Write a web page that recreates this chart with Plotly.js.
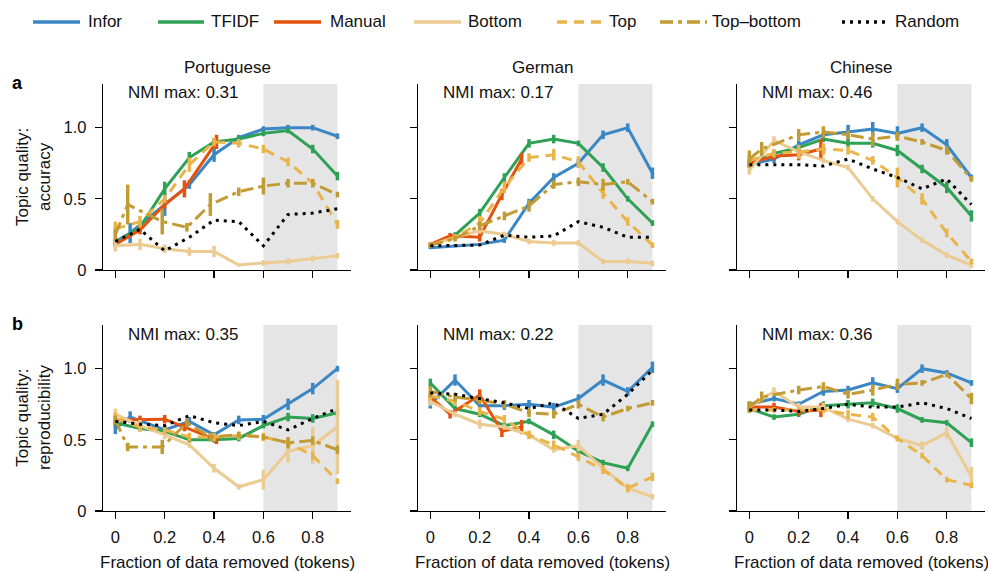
<!DOCTYPE html>
<html><head><meta charset="utf-8">
<script src="https://cdn.plot.ly/plotly-3.0.1.min.js"></script>
<style>html,body{margin:0;padding:0;background:#fff}#chart{width:988px;height:571px}</style>
</head><body><div id="chart"></div>
<script>
// ---------------- data ----------------
const SERIES = ['Infor','TFIDF','Manual','Bottom','Top','Top–bottom','Random'];
const LANGUAGES = ['Portuguese','German','Chinese'];
const NMI_ACC = ['0.31','0.17','0.46'];
const NMI_REP = ['0.35','0.22','0.36'];
const X_TICKS = [0,0.2,0.4,0.6,0.8];
const X_TICK_TEXT = ['0','0.2','0.4','0.6','0.8'];
const Y_TICKS = [0,0.5,1];
const Y_TICK_TEXT = ['0','0.5','1.0'];
const SHADE_RANGE = [0.6,0.9];
const X_TITLE = 'Fraction of data removed (tokens)';
const Y_TITLES = ['Topic quality:<br>accuracy','Topic quality:<br>reproducibility'];
const ROW_LETTERS = ['a','b'];

const X_GRID = [0,0.1,0.2,0.3,0.4,0.5,0.6,0.7,0.8,0.9];
const X_PT_INFOR = [0,0.06,0.2,0.3,0.4,0.5,0.6,0.7,0.8,0.9];
const X_PT_TOPBOTTOM = [0,0.05,0.19,0.29,0.385,0.5,0.6,0.7,0.8,0.9];
const X_ZH_TOPBOTTOM = [0,0.05,0.2,0.3,0.4,0.5,0.6,0.7,0.8,0.9];
const X_PT_MANUAL = [0,0.1,0.2,0.28,0.41];
const X_DE_MANUAL = [0,0.08,0.2,0.29,0.37];
const X_ZH_MANUAL = [0,0.1,0.2,0.29];

// accuracy - Portuguese
const ACC_PT_INFOR = [0.20,0.26,0.46,0.60,0.81,0.93,0.99,1.00,1.00,0.94];
const ACC_PT_INFOR_ERR = [0.02,0.07,0.08,0.03,0.05,0.02,0.02,0.02,0.02,0.02];
const ACC_PT_TFIDF = [0.19,0.30,0.57,0.79,0.90,0.92,0.96,0.98,0.85,0.66];
const ACC_PT_TFIDF_ERR = [0.02,0.03,0.05,0.04,0.02,0.02,0.02,0.02,0.03,0.03];
const ACC_PT_MANUAL = [0.18,0.28,0.46,0.57,0.90];
const ACC_PT_MANUAL_ERR = [0.02,0.03,0.03,0.06,0.05];
const ACC_PT_BOTTOM = [0.17,0.18,0.15,0.13,0.13,0.035,0.05,0.06,0.08,0.10];
const ACC_PT_BOTTOM_ERR = [0.04,0.04,0.03,0.03,0.04,0.01,0.02,0.02,0.02,0.02];
const ACC_PT_TOP = [0.29,0.34,0.50,0.74,0.90,0.89,0.85,0.76,0.61,0.32];
const ACC_PT_TOP_ERR = [0.05,0.04,0.03,0.05,0.03,0.03,0.03,0.03,0.03,0.03];
const ACC_PT_TOPBOTTOM = [0.25,0.46,0.34,0.30,0.46,0.55,0.59,0.61,0.61,0.53];
const ACC_PT_TOPBOTTOM_ERR = [0.04,0.14,0.09,0.03,0.08,0.03,0.06,0.03,0.03,0.02];
const ACC_PT_RANDOM = [0.20,0.285,0.135,0.23,0.35,0.34,0.17,0.39,0.40,0.43];

// accuracy - German
const ACC_DE_INFOR = [0.157,0.17,0.18,0.21,0.47,0.65,0.75,0.95,1.00,0.68];
const ACC_DE_INFOR_ERR = [0.01,0.01,0.01,0.02,0.03,0.03,0.03,0.03,0.03,0.04];
const ACC_DE_TFIDF = [0.175,0.245,0.40,0.65,0.89,0.92,0.89,0.72,0.50,0.33];
const ACC_DE_TFIDF_ERR = [0.01,0.02,0.03,0.03,0.03,0.03,0.02,0.03,0.02,0.02];
const ACC_DE_MANUAL = [0.18,0.24,0.23,0.53,0.78];
const ACC_DE_MANUAL_ERR = [0.01,0.02,0.03,0.04,0.04];
const ACC_DE_BOTTOM = [0.175,0.23,0.275,0.25,0.20,0.19,0.19,0.06,0.06,0.047];
const ACC_DE_BOTTOM_ERR = [0.01,0.02,0.02,0.02,0.02,0.02,0.02,0.02,0.02,0.02];
const ACC_DE_TOP = [0.175,0.23,0.33,0.58,0.79,0.81,0.76,0.54,0.34,0.175];
const ACC_DE_TOP_ERR = [0.02,0.02,0.05,0.04,0.03,0.04,0.04,0.04,0.03,0.02];
const ACC_DE_TOPBOTTOM = [0.175,0.22,0.31,0.38,0.45,0.60,0.62,0.60,0.62,0.48];
const ACC_DE_TOPBOTTOM_ERR = [0.02,0.02,0.03,0.03,0.04,0.03,0.03,0.04,0.02,0.02];
const ACC_DE_RANDOM = [0.17,0.175,0.175,0.245,0.23,0.24,0.34,0.30,0.23,0.23];

// accuracy - Chinese
const ACC_ZH_INFOR = [0.74,0.78,0.88,0.95,0.97,0.99,0.96,1.00,0.88,0.65];
const ACC_ZH_INFOR_ERR = [0.02,0.03,0.03,0.02,0.05,0.05,0.05,0.03,0.04,0.02];
const ACC_ZH_TFIDF = [0.74,0.82,0.86,0.92,0.89,0.89,0.84,0.71,0.58,0.38];
const ACC_ZH_TFIDF_ERR = [0.02,0.02,0.02,0.02,0.03,0.03,0.04,0.03,0.04,0.04];
const ACC_ZH_MANUAL = [0.75,0.80,0.81,0.85];
const ACC_ZH_MANUAL_ERR = [0.03,0.03,0.04,0.07];
const ACC_ZH_BOTTOM = [0.70,0.91,0.83,0.77,0.72,0.50,0.34,0.21,0.105,0.035];
const ACC_ZH_BOTTOM_ERR = [0.03,0.03,0.02,0.02,0.02,0.02,0.02,0.02,0.02,0.02];
const ACC_ZH_TOP = [0.77,0.82,0.83,0.85,0.84,0.77,0.65,0.50,0.26,0.06];
const ACC_ZH_TOP_ERR = [0.03,0.03,0.05,0.04,0.03,0.03,0.07,0.04,0.03,0.02];
const ACC_ZH_TOPBOTTOM = [0.78,0.85,0.95,0.97,0.95,0.92,0.94,0.90,0.84,0.64];
const ACC_ZH_TOPBOTTOM_ERR = [0.06,0.05,0.04,0.04,0.03,0.05,0.03,0.02,0.03,0.02];
const ACC_ZH_RANDOM = [0.74,0.74,0.74,0.73,0.78,0.71,0.65,0.57,0.64,0.46];

// reproducibility - Portuguese
const REP_PT_INFOR = [0.58,0.66,0.57,0.63,0.535,0.64,0.645,0.75,0.86,1.00];
const REP_PT_INFOR_ERR = [0.04,0.04,0.03,0.03,0.02,0.03,0.03,0.04,0.04,0.02];
const REP_PT_TFIDF = [0.62,0.58,0.56,0.50,0.50,0.51,0.60,0.66,0.65,0.69];
const REP_PT_TFIDF_ERR = [0.02,0.02,0.02,0.02,0.02,0.02,0.02,0.03,0.03,0.02];
const REP_PT_MANUAL = [0.64,0.64,0.645,0.59,0.50];
const REP_PT_MANUAL_ERR = [0.03,0.03,0.03,0.03,0.03];
const REP_PT_BOTTOM = [0.68,0.60,0.535,0.465,0.30,0.17,0.22,0.42,0.46,0.59];
const REP_PT_BOTTOM_ERR = [0.04,0.04,0.03,0.02,0.03,0.02,0.07,0.08,0.13,0.33];
const REP_PT_TOP = [0.65,0.59,0.57,0.52,0.52,0.53,0.52,0.48,0.39,0.21];
const REP_PT_TOP_ERR = [0.04,0.03,0.03,0.03,0.03,0.03,0.03,0.03,0.03,0.02];
const REP_PT_TOPBOTTOM = [0.64,0.45,0.45,0.62,0.52,0.535,0.52,0.48,0.495,0.43];
const REP_PT_TOPBOTTOM_ERR = [0.03,0.03,0.05,0.03,0.03,0.02,0.02,0.04,0.03,0.03];
const REP_PT_RANDOM = [0.63,0.61,0.60,0.67,0.62,0.60,0.63,0.57,0.65,0.72];

// reproducibility - German
const REP_DE_INFOR = [0.75,0.92,0.74,0.74,0.75,0.73,0.79,0.92,0.84,1.01];
const REP_DE_INFOR_ERR = [0.03,0.04,0.02,0.03,0.03,0.03,0.03,0.04,0.03,0.04];
const REP_DE_TFIDF = [0.90,0.72,0.68,0.60,0.63,0.535,0.42,0.34,0.30,0.61];
const REP_DE_TFIDF_ERR = [0.03,0.02,0.02,0.02,0.02,0.03,0.02,0.02,0.02,0.02];
const REP_DE_MANUAL = [0.80,0.68,0.815,0.56,0.59];
const REP_DE_MANUAL_ERR = [0.03,0.03,0.04,0.04,0.05];
const REP_DE_BOTTOM = [0.77,0.68,0.61,0.59,0.535,0.43,0.46,0.30,0.16,0.10];
const REP_DE_BOTTOM_ERR = [0.03,0.02,0.03,0.02,0.02,0.02,0.04,0.02,0.02,0.02];
const REP_DE_TOP = [0.81,0.77,0.70,0.645,0.535,0.465,0.38,0.29,0.16,0.24];
const REP_DE_TOP_ERR = [0.03,0.03,0.03,0.03,0.03,0.03,0.03,0.03,0.03,0.03];
const REP_DE_TOPBOTTOM = [0.84,0.80,0.78,0.75,0.69,0.68,0.75,0.66,0.72,0.76];
const REP_DE_TOPBOTTOM_ERR = [0.04,0.03,0.03,0.03,0.03,0.03,0.03,0.03,0.02,0.02];
const REP_DE_RANDOM = [0.83,0.82,0.79,0.76,0.72,0.76,0.65,0.68,0.82,0.99];

// reproducibility - Chinese
const REP_ZH_INFOR = [0.75,0.79,0.75,0.84,0.85,0.90,0.86,1.00,0.97,0.90];
const REP_ZH_INFOR_ERR = [0.02,0.02,0.02,0.03,0.03,0.04,0.03,0.03,0.02,0.02];
const REP_ZH_TFIDF = [0.72,0.66,0.68,0.74,0.75,0.76,0.72,0.64,0.62,0.48];
const REP_ZH_TFIDF_ERR = [0.02,0.02,0.02,0.03,0.03,0.03,0.03,0.02,0.02,0.03];
const REP_ZH_MANUAL = [0.73,0.73,0.70,0.71];
const REP_ZH_MANUAL_ERR = [0.03,0.03,0.03,0.05];
const REP_ZH_BOTTOM = [0.73,0.84,0.73,0.73,0.645,0.60,0.51,0.46,0.55,0.24];
const REP_ZH_BOTTOM_ERR = [0.03,0.03,0.03,0.03,0.02,0.02,0.02,0.03,0.04,0.07];
const REP_ZH_TOP = [0.71,0.71,0.71,0.71,0.68,0.66,0.51,0.39,0.22,0.18];
const REP_ZH_TOP_ERR = [0.02,0.02,0.02,0.02,0.03,0.03,0.02,0.02,0.02,0.02];
const REP_ZH_TOPBOTTOM = [0.73,0.80,0.85,0.875,0.82,0.85,0.89,0.90,0.96,0.79];
const REP_ZH_TOPBOTTOM_ERR = [0.04,0.04,0.03,0.03,0.03,0.04,0.04,0.02,0.02,0.04];
const REP_ZH_RANDOM = [0.71,0.71,0.70,0.72,0.75,0.73,0.73,0.76,0.72,0.65];

// ---------------- tables built from data ----------------
function panel(xs, ys, es) { // xs, ys, es: arrays by series order
  return SERIES.map((s, i) => ({name: s, x: xs[i], y: ys[i], e: es[i]}));
}
const PANELS = [
  panel([X_PT_INFOR, X_GRID, X_PT_MANUAL, X_GRID, X_GRID, X_PT_TOPBOTTOM, X_GRID],
        [ACC_PT_INFOR, ACC_PT_TFIDF, ACC_PT_MANUAL, ACC_PT_BOTTOM, ACC_PT_TOP, ACC_PT_TOPBOTTOM, ACC_PT_RANDOM],
        [ACC_PT_INFOR_ERR, ACC_PT_TFIDF_ERR, ACC_PT_MANUAL_ERR, ACC_PT_BOTTOM_ERR, ACC_PT_TOP_ERR, ACC_PT_TOPBOTTOM_ERR, null]),
  panel([X_GRID, X_GRID, X_DE_MANUAL, X_GRID, X_GRID, X_GRID, X_GRID],
        [ACC_DE_INFOR, ACC_DE_TFIDF, ACC_DE_MANUAL, ACC_DE_BOTTOM, ACC_DE_TOP, ACC_DE_TOPBOTTOM, ACC_DE_RANDOM],
        [ACC_DE_INFOR_ERR, ACC_DE_TFIDF_ERR, ACC_DE_MANUAL_ERR, ACC_DE_BOTTOM_ERR, ACC_DE_TOP_ERR, ACC_DE_TOPBOTTOM_ERR, null]),
  panel([X_GRID, X_GRID, X_ZH_MANUAL, X_GRID, X_GRID, X_ZH_TOPBOTTOM, X_GRID],
        [ACC_ZH_INFOR, ACC_ZH_TFIDF, ACC_ZH_MANUAL, ACC_ZH_BOTTOM, ACC_ZH_TOP, ACC_ZH_TOPBOTTOM, ACC_ZH_RANDOM],
        [ACC_ZH_INFOR_ERR, ACC_ZH_TFIDF_ERR, ACC_ZH_MANUAL_ERR, ACC_ZH_BOTTOM_ERR, ACC_ZH_TOP_ERR, ACC_ZH_TOPBOTTOM_ERR, null]),
  panel([X_PT_INFOR, X_GRID, X_PT_MANUAL, X_GRID, X_GRID, X_PT_TOPBOTTOM, X_GRID],
        [REP_PT_INFOR, REP_PT_TFIDF, REP_PT_MANUAL, REP_PT_BOTTOM, REP_PT_TOP, REP_PT_TOPBOTTOM, REP_PT_RANDOM],
        [REP_PT_INFOR_ERR, REP_PT_TFIDF_ERR, REP_PT_MANUAL_ERR, REP_PT_BOTTOM_ERR, REP_PT_TOP_ERR, REP_PT_TOPBOTTOM_ERR, null]),
  panel([X_GRID, X_GRID, X_DE_MANUAL, X_GRID, X_GRID, X_GRID, X_GRID],
        [REP_DE_INFOR, REP_DE_TFIDF, REP_DE_MANUAL, REP_DE_BOTTOM, REP_DE_TOP, REP_DE_TOPBOTTOM, REP_DE_RANDOM],
        [REP_DE_INFOR_ERR, REP_DE_TFIDF_ERR, REP_DE_MANUAL_ERR, REP_DE_BOTTOM_ERR, REP_DE_TOP_ERR, REP_DE_TOPBOTTOM_ERR, null]),
  panel([X_GRID, X_GRID, X_ZH_MANUAL, X_GRID, X_GRID, X_ZH_TOPBOTTOM, X_GRID],
        [REP_ZH_INFOR, REP_ZH_TFIDF, REP_ZH_MANUAL, REP_ZH_BOTTOM, REP_ZH_TOP, REP_ZH_TOPBOTTOM, REP_ZH_RANDOM],
        [REP_ZH_INFOR_ERR, REP_ZH_TFIDF_ERR, REP_ZH_MANUAL_ERR, REP_ZH_BOTTOM_ERR, REP_ZH_TOP_ERR, REP_ZH_TOPBOTTOM_ERR, null])
];

// ---------------- styles ----------------
const STYLE = {
  'Infor':      {color:'#3a87c5', dash:'solid'},
  'TFIDF':      {color:'#2fa155', dash:'solid'},
  'Manual':     {color:'#e5520e', dash:'solid'},
  'Bottom':     {color:'#ebcb91', dash:'solid'},
  'Top':        {color:'#e9b54a', dash:'10px,7px'},
  'Top–bottom': {color:'#c19b33', dash:'13px,5px,4px,5px'},
  'Random':     {color:'#000000', dash:'3px,5px'}
};
const W = 988, H = 571;
const FONT = 'Liberation Sans, Arial, Helvetica, sans-serif';
const TXT = '#111';
const COLS = [[103,351],[418,666],[737,985]];   // px
const ROWS = [[84,270],[325,511]];              // px (top, bottom)
const px = v => v / W;
const py = v => 1 - v / H;

const traces = [];
const layout = {
  width: W, height: H,
  margin: {l:0, r:0, t:0, b:0},
  paper_bgcolor:'#fff', plot_bgcolor:'rgba(0,0,0,0)',
  showlegend: false,
  font: {family: FONT, size: 17, color: TXT},
  shapes: [], annotations: []
};

PANELS.forEach((series, p) => {
  const r = Math.floor(p / 3), c = p % 3, k = p + 1;
  const xa = 'xaxis' + (k === 1 ? '' : k), ya = 'yaxis' + (k === 1 ? '' : k);
  const xr = 'x' + (k === 1 ? '' : k), yr = 'y' + (k === 1 ? '' : k);
  layout[xa] = {
    domain: [px(COLS[c][0]), px(COLS[c][1])], anchor: yr,
    range: [-0.05, 0.955], tickvals: X_TICKS, ticktext: X_TICK_TEXT,
    showticklabels: r === 1, ticks: 'outside', ticklen: 7, tickwidth: 1.3, tickcolor: '#000',
    showline: true, linecolor: '#000', linewidth: 1.3, showgrid: false, zeroline: false,
    tickfont: {size: 16.5, color: TXT}, ticklabelstandoff: 4, fixedrange: true
  };
  layout[ya] = {
    domain: [py(ROWS[r][1]), py(ROWS[r][0])], anchor: xr,
    range: [0, 1.307], tickvals: Y_TICKS, ticktext: Y_TICK_TEXT,
    showticklabels: c === 0, ticks: 'outside', ticklen: 7, tickwidth: 1.3, tickcolor: '#000',
    showline: true, linecolor: '#000', linewidth: 1.3, showgrid: false, zeroline: false,
    tickfont: {size: 16.5, color: TXT}, ticklabelstandoff: 5, fixedrange: true
  };
  layout.shapes.push({type:'rect', xref: xr, yref: yr + ' domain', x0: SHADE_RANGE[0], x1: SHADE_RANGE[1],
    y0: 0, y1: 1, fillcolor: '#e5e5e5', line: {width: 0}, layer: 'below'});
  series.forEach(s => {
    const st = STYLE[s.name];
    const t = {type:'scatter', mode:'lines', name: s.name, x: s.x, y: s.y, xaxis: xr, yaxis: yr,
      line: {color: st.color, width: 3, dash: st.dash}, hoverinfo: 'skip'};
    if (s.e) t.error_y = {type:'data', array: s.e, visible: true, color: st.color, thickness: 3.5, width: 0};
    traces.push(t);
  });
  // NMI label
  const nmi = (r === 0 ? NMI_ACC : NMI_REP)[c];
  layout.annotations.push({xref:'paper', yref:'paper', x: px(COLS[c][0] + 23), y: py(r === 0 ? 93 : 334),
    xanchor:'left', yanchor:'middle', showarrow:false, text:'NMI max: ' + nmi, font:{size:17, color:TXT}});
  if (r === 0) {
    layout.annotations.push({xref:'paper', yref:'paper', x: px((COLS[c][0]+COLS[c][1])/2), y: py(67),
      xanchor:'center', yanchor:'middle', showarrow:false, text: LANGUAGES[c], font:{size:17, color:TXT}});
  } else {
    layout.annotations.push({xref:'paper', yref:'paper', x: px((COLS[c][0]+COLS[c][1])/2), y: py(562),
      xanchor:'center', yanchor:'middle', showarrow:false, text: X_TITLE, font:{size:17, color:TXT}});
  }
  if (c === 0) {
    layout.annotations.push({xref:'paper', yref:'paper', x: px(33), y: py((ROWS[r][0]+ROWS[r][1])/2),
      xanchor:'center', yanchor:'middle', showarrow:false, textangle:-90, text: Y_TITLES[r],
      font:{size:17, color:TXT}});
    layout.annotations.push({xref:'paper', yref:'paper', x: px(17), y: py(r === 0 ? 83 : 324),
      xanchor:'center', yanchor:'middle', showarrow:false, text: '<b>' + ROW_LETTERS[r] + '</b>',
      font:{size:18, color:'#000'}});
  }
});

// legend drawn across the top
const LEGEND_POS = [[33,80,88],[158,204,211],[274,321,330],[414,461,468],[557,604,609],[660,707,712],[842,889,895]];
SERIES.forEach((s, i) => {
  const st = STYLE[s], [a, b, t] = LEGEND_POS[i];
  layout.shapes.push({type:'line', xref:'paper', yref:'paper', x0: px(a), x1: px(b), y0: py(22), y1: py(22),
    line: {color: st.color, width: 3.5, dash: st.dash}});
  layout.annotations.push({xref:'paper', yref:'paper', x: px(t - 2), y: py(22), xanchor:'left', yanchor:'middle',
    showarrow:false, text: s, font:{size:17, color:TXT}});
});

Plotly.newPlot('chart', traces, layout, {displayModeBar:false, staticPlot:true});
</script></body></html>
